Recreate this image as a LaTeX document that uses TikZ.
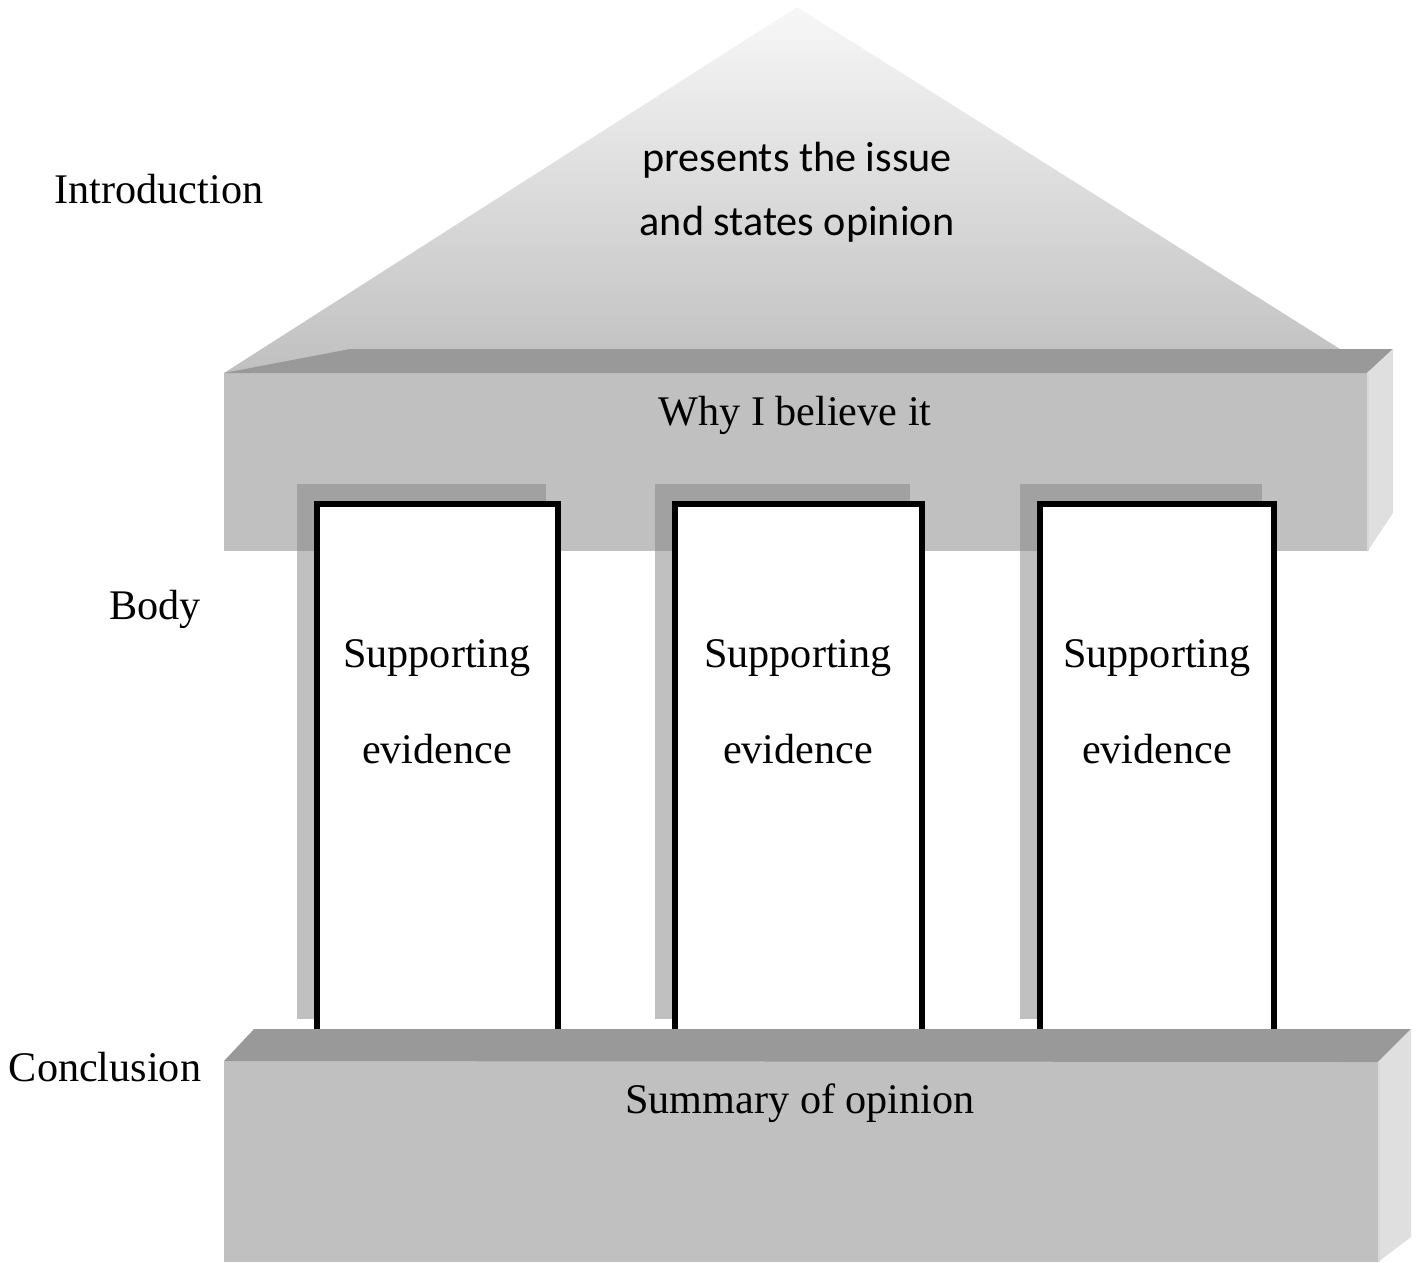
\documentclass[tikz,border=0pt]{standalone}
\usepackage{fontspec}
\setmainfont{Liberation Serif}
\newfontfamily\roofsans{Carlito}
\usepackage{xcolor}
\usepackage{tikz}
\usetikzlibrary{positioning,calc}

\definecolor{frontgray}{HTML}{C0C0C0}
\definecolor{topgray}{HTML}{999999}
\definecolor{sidegray}{HTML}{DFDFDF}
\definecolor{shadowdark}{HTML}{A1A1A1}

\begin{document}
\begin{tikzpicture}[
  x={(0.01cm,0)}, y={(0,-0.01cm)},
  lbl/.style={font=\fontsize{12}{14}\selectfont,anchor=base,inner sep=0pt},
  rooflbl/.style={font=\roofsans\fontsize{12}{14}\selectfont,anchor=base,inner sep=0pt},
  pillar/.style={draw=black,fill=white,line width=1.7pt},
  face/.style={draw=none}
]
\useasboundingbox (0,0) rectangle (1418,1262);
% roof
\shade[top color=white!97!black,bottom color=frontgray] (797,7) -- (224,373) -- (1340,349) -- cycle;
% beam
\fill[face,frontgray] (224,373) rectangle (1367,551);
\fill[face,topgray] (224,373) -- (350,349) -- (1393,349) -- (1367,373) -- cycle;
\fill[face,sidegray] (1367,373) -- (1393,349) -- (1393,513) -- (1367,552) -- cycle;
\draw[white!85!black,line width=0.6pt] (1368,374) -- (1368,551);
% pillars with their shadows
\foreach \xl/\xr in {317/558, 675/922, 1040/1274}{
  \fill[shadowdark] (\xl-20,484) rectangle (\xr-12,551);
  \fill[frontgray] (\xl-20,551) rectangle (\xr-12,1019);
  \draw[pillar] (\xl,504) rectangle (\xr,1040);
}
% plinth
\fill[face,frontgray] (224,1061) rectangle (1378,1262);
\fill[face,topgray] (224,1061) -- (254,1029) -- (1411,1029) -- (1378,1062) -- cycle;
\fill[face,sidegray] (1378,1062) -- (1411,1029) -- (1411,1237) -- (1378,1262) -- cycle;
\draw[white!85!black,line width=0.6pt] (1379,1063) -- (1379,1262);

\node[lbl] (intro) at (159,203) {Introduction};
\node[lbl] (body) at (155,619) {Body};
\node[lbl] (concl) at (105,1081) {Conclusion};

\node[rooflbl] (issue) at (797,171) {presents the issue};
\node[rooflbl] (opinion) at (797,235) {and states opinion};
\node[lbl] (why) at (795,425) {Why I believe it};

\node[lbl] (sup1) at (437,667) {Supporting};
\node[lbl] (ev1) at (437,763) {evidence};
\node[lbl] (sup2) at (798,667) {Supporting};
\node[lbl] (ev2) at (798,763) {evidence};
\node[lbl] (sup3) at (1157,667) {Supporting};
\node[lbl] (ev3) at (1157,763) {evidence};

\node[lbl] (summary) at (800,1113) {Summary of opinion};
\end{tikzpicture}
\end{document}
